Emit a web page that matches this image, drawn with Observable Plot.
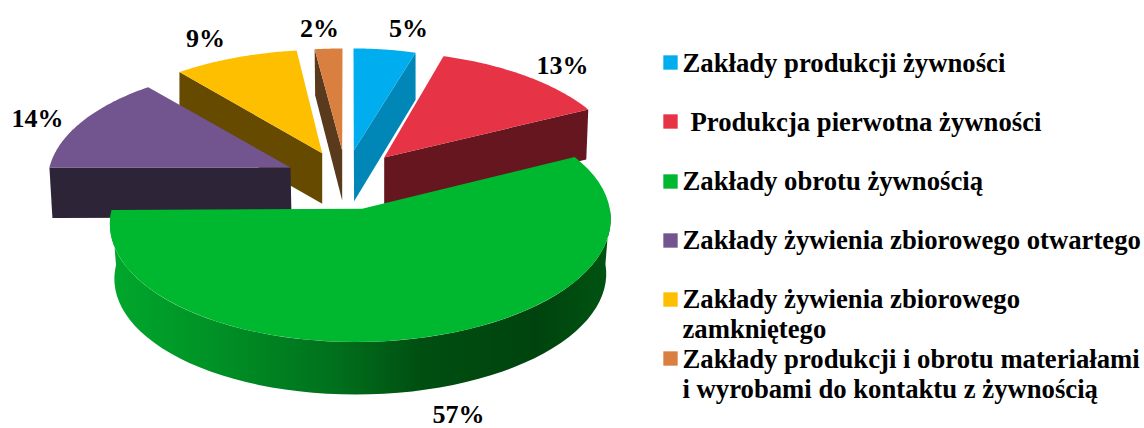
<!DOCTYPE html>
<html><head><meta charset="utf-8">
<script src="https://cdn.jsdelivr.net/npm/d3@7"></script>
<script src="https://cdn.jsdelivr.net/npm/@observablehq/plot@0.6"></script>
<style>html,body{margin:0;padding:0;background:#fff}svg{display:block}</style>
</head><body><div id="chart"></div>
<script>
// ---- data ----
const categories = [
  "Zakłady produkcji żywności",
  "Produkcja pierwotna żywności",
  "Zakłady obrotu żywnością",
  "Zakłady żywienia zbiorowego otwartego",
  "Zakłady żywienia zbiorowego\nzamkniętego",
  "Zakłady produkcji i obrotu materiałami\ni wyrobami do kontaktu z żywnością"
];
const shares = [5, 13, 57, 14, 9, 2];

// ---- styles ----
const topColors = ["#00aeef", "#e73346", "#00b82f", "#72558e", "#fdbf00", "#d98040"];
const sideColors = ["#0087b8", "#66161e", "url(#greenSide)", "#2e2438", "#664a00", "#5a3a1c"];

// ---- layout: perspective of the pie and the way each slice is pulled out ----
const A = 248, B = 118.4, E = 0.1167;
const sliceLayout = [
  {o:[353,143.4], k:.9,  tip:[353.3,150], edge:"end",   rimDrop:[0,47],    tipDrop:[.3,50.7]},
  {o:[374,157],   k:1,   tip:[383.7,157], edge:"end",   rimDrop:[-2,50],   tipDrop:[0,50]},
  {o:[359.8,207], k:1.003, tip:[361.6,208.3], edge:null, tilt:-2.5},
  {o:[287,167],   k:.96, tip:[290,167],   edge:"start", rimDrop:[3,50.5],  tipDrop:[1,50]},
  {o:[324,155.3], k:1,   tip:[321.7,152.7], edge:"start", rimDrop:[0,50],  tipDrop:[0,50.5]},
  {o:[342,154],   k:1,   tip:[341.7,150], edge:"start", rimDrop:[.5,46],   tipDrop:[0,50]}
];
const drawOrder = [5, 0, 4, 1, 3, 2];
const greenDepth = 55, greenBottomScale = 0.985;
const percentXY = [[408,36],[562,73],[458,422],[37,126],[205,46],[319,36]];
const legendSwatchY = [62, 121, 181, 240, 299, 358];
const legendBaseY = [71, 130, 189, 248, 337, 397];
const legendTextX = [682, 690, 682, 682, 682, 682];

// ---- geometry ----
const rad = d => d * Math.PI / 180;
function rim(theta, s) {
  const t = rad(theta), w = 1 + E * Math.cos(t);
  return [s.o[0] + s.k * A * Math.sin(t) / w, s.o[1] - s.k * B * Math.cos(t) / w + (s.tilt || 0) * Math.sin(t)];
}
const total = d3.sum(shares);
const bounds = d3.cumsum(shares).map(c => c / total * 360);
const starts = bounds.map((b, i) => b - shares[i] / total * 360);

const polys = [];
function addPoly(id, color, pts) { pts.forEach(p => polys.push({id, color, x: p[0], y: p[1]})); }
const plus = (p, d) => [p[0] + d[0], p[1] + d[1]];

for (const i of drawOrder) {
  const s = sliceLayout[i], a = starts[i], b = bounds[i];
  const arc = d3.range(0, 61).map(j => rim(a + (b - a) * j / 60, s));
  if (s.edge) {
    const r = s.edge === "end" ? arc[arc.length - 1] : arc[0];
    addPoly(`side${i}`, sideColors[i], [r, s.tip, plus(s.tip, s.tipDrop), plus(r, s.rimDrop)]);
  } else {
    const th = d3.range(0, 61).map(j => 92 + (b - 92) * j / 60);
    const bottom = {o:[s.o[0], s.o[1] + greenDepth], k: greenBottomScale, tilt: s.tilt};
    addPoly(`side${i}`, sideColors[i], [...th.map(t => rim(t, s)), ...th.slice().reverse().map(t => rim(t, bottom))]);
  }
  addPoly(`top${i}`, topColors[i], [s.tip, ...arc]);
}

const legendRows = categories.map((c, i) => ({c, color: topColors[i], sy: legendSwatchY[i], by: legendBaseY[i], tx: legendTextX[i]}));
const pctRows = shares.map((v, i) => ({t: `${v}%`, x: percentXY[i][0], y: percentXY[i][1]}));

const gradient = () => {
  const defs = d3.create("svg:defs");
  const g = defs.append("linearGradient").attr("id", "greenSide")
    .attr("gradientUnits", "userSpaceOnUse").attr("x1", 110).attr("x2", 610).attr("y1", 0).attr("y2", 0);
  [[0,"#00a82c"],[.2,"#009226"],[.45,"#00701c"],[.62,"#004f11"],[.85,"#00430e"],[1,"#005412"]]
    .forEach(([o, c]) => g.append("stop").attr("offset", o).attr("stop-color", c));
  return defs.node();
};

const serif = "'Liberation Serif','Times New Roman',serif";
const chart = Plot.plot({
  width: 1144, height: 428, margin: 0,
  x: {type: "identity", axis: null},
  y: {type: "identity", axis: null},
  color: {type: "identity"},
  style: {background: "#fff", overflow: "visible"},
  marks: [
    gradient,
    Plot.line(polys, {x: "x", y: "y", z: "id", fill: "color", stroke: "none", curve: "linear"}),
    Plot.text(pctRows, {x: "x", y: "y", text: "t", fontFamily: serif, fontWeight: "bold", fontSize: 26, fill: "#000", textAnchor: "middle", lineAnchor: "bottom"}),
    Plot.dot(legendRows, {x: 670, y: "sy", symbol: "square", r: 8.1, fill: "color", stroke: "none"}),
    Plot.text(legendRows, {x: "tx", y: "by", text: "c", fontFamily: serif, fontWeight: "bold", fontSize: 26.7, fill: "#000", textAnchor: "start", lineAnchor: "bottom", lineHeight: 30 / 26.7})
  ]
});
document.getElementById("chart").append(chart);
</script></body></html>
